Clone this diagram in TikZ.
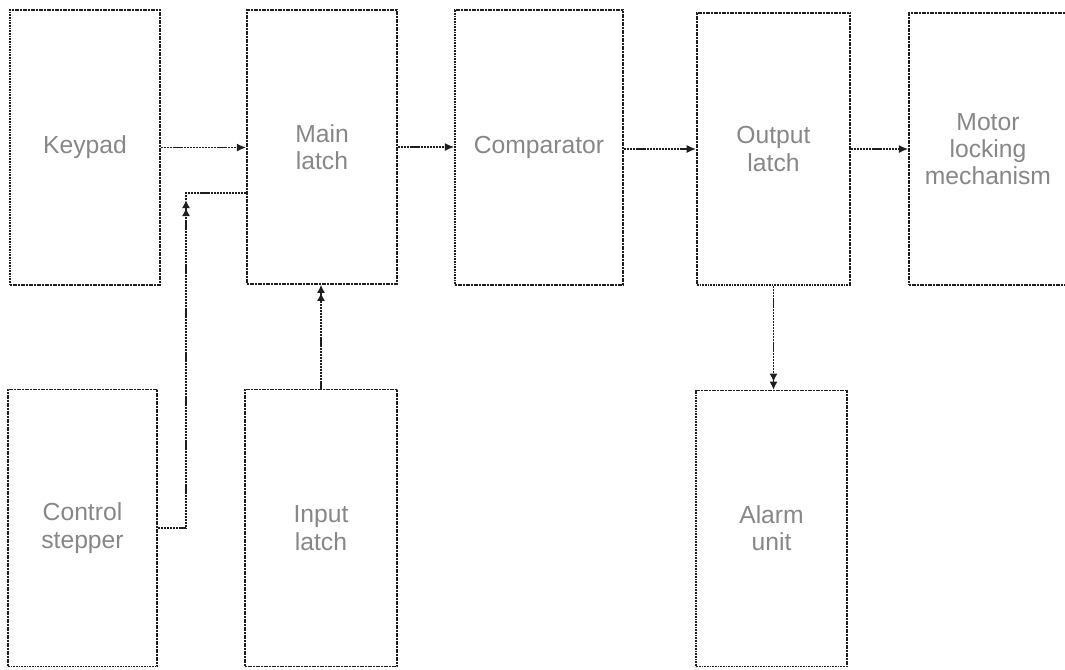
\documentclass[tikz,border=0pt]{standalone}
\usepackage{fontspec}
\setmainfont{Liberation Sans}
\usepackage{xcolor}
\usepackage{tikz}
\usetikzlibrary{arrows.meta, positioning}
\definecolor{LineGray}{RGB}{30,30,30}
\definecolor{TextGray}{RGB}{135,135,135}
\tikzset{
  >=latex,  % default arrow tips
  % blocks of the diagram
  block/.style={draw=LineGray,line width=1.2pt,dash pattern=on 1.4pt off 0.6pt,
    align=center,inner sep=0pt,text=TextGray,
    font=\fontsize{18.5}{20.5}\selectfont},
  % connections
  connect/.style={draw=LineGray,line width=1.1pt,dash pattern=on 1.6pt off 0.6pt},
  connect arrow/.style={connect,-{Latex[length=7,width=6]}},
  connect double/.style={connect,-{Latex[length=6,width=6]Latex[length=6,width=6]}}
}

\begin{document}
\begin{tikzpicture}[x=0.75pt,y=-0.75pt]
    \useasboundingbox (0,0) rectangle (1065,669);
    \begin{scope}
    \clip (0,0) rectangle (1065,669);
    % top row
    \node[block,minimum width=112.5pt,minimum height=206pt] (keypad) at (85,147.5) {Keypad};
    \node[block,minimum width=112.5pt,minimum height=205.5pt] (mainlatch) at (322,147) {Main\\latch};
    \node[block,minimum width=126pt,minimum height=206pt] (comparator) at (539,147.5) {Comparator};
    \node[block,minimum width=115pt,minimum height=204pt] (outlatch) at (773.5,149) {Output\\latch};
    \node[block,minimum width=118.5pt,minimum height=204pt] (motor) at (988,149) {Motor\\locking\\mechanism};
    % bottom row
    \node[block,minimum width=112pt,minimum height=208pt] (stepper) at (82.5,528) {Control\\stepper};
    \node[block,minimum width=114pt,minimum height=208pt] (inlatch) at (321,528) {Input\\latch};
    \node[block,minimum width=113pt,minimum height=207pt] (alarm) at (771.5,528.5) {Alarm\\unit};
    \end{scope}
    % signal path
    \draw[connect arrow] (keypad.east) -- (keypad.east -| mainlatch.west);
    \draw[connect arrow] (mainlatch.east) -- (mainlatch.east -| comparator.west);
    \draw[connect arrow] (comparator.east |- outlatch.west) -- (outlatch.west);
    \draw[connect arrow] (outlatch.east) -- (outlatch.east -| motor.west);
    \draw[connect double] (outlatch.south) -- (outlatch.south |- alarm.north);
    \draw[connect double] (inlatch.north) -- (inlatch.north |- mainlatch.south);
    % stepper into main latch
    \coordinate (ctrlup) at (186,200);
    \coordinate (ctrlin) at (247,193);
    \draw[connect double] (stepper.east) -| (ctrlup);
    \draw[connect] (ctrlup) |- (ctrlin);
\end{tikzpicture}
\end{document}
